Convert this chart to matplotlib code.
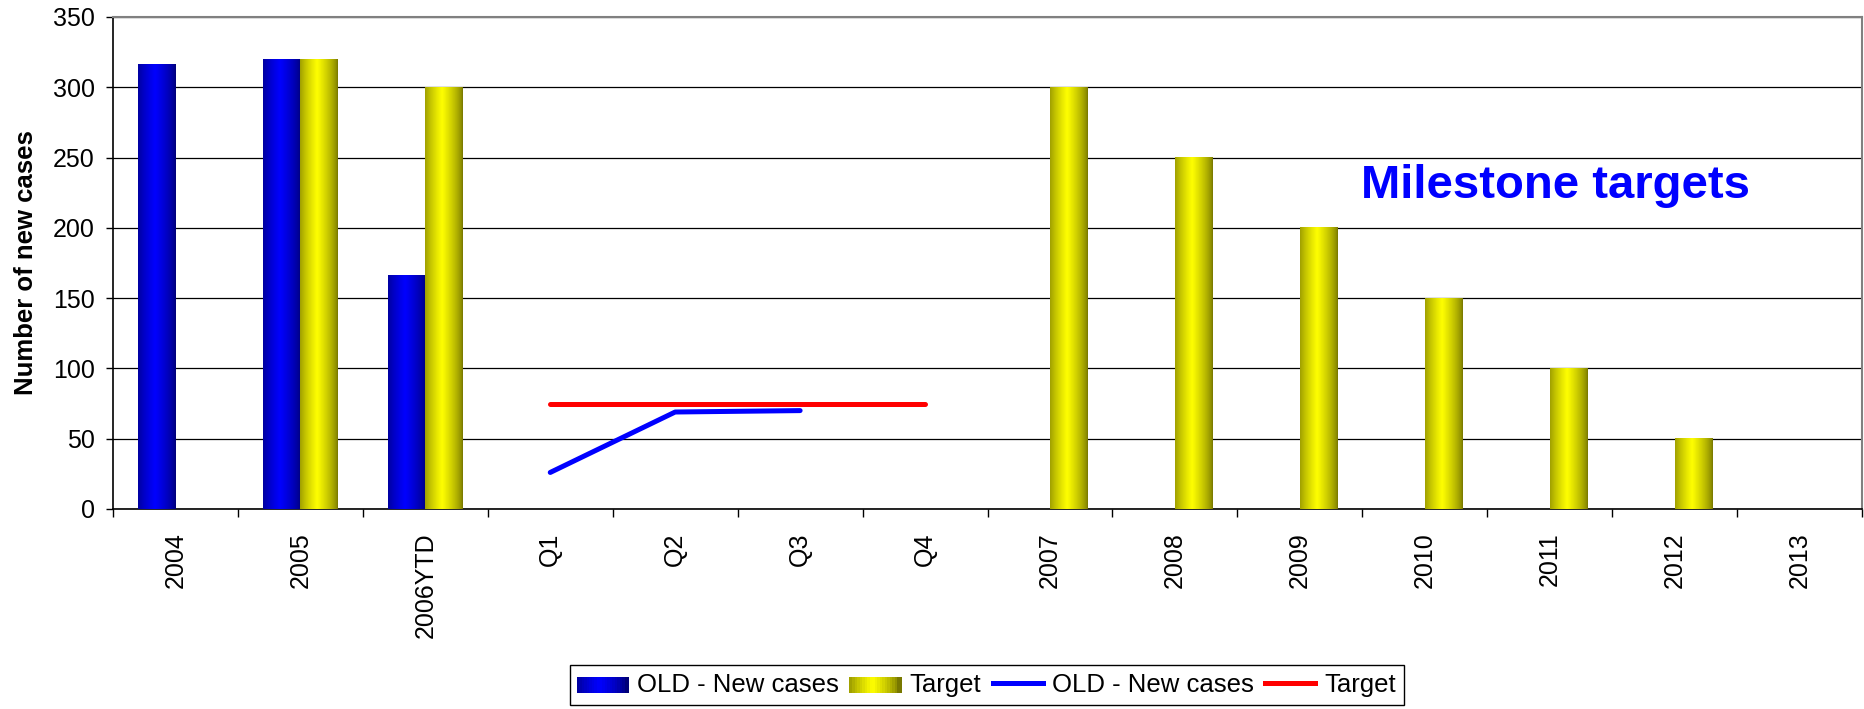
import numpy as np
import matplotlib
matplotlib.use('Agg')
import matplotlib.pyplot as plt
from matplotlib.patches import Rectangle
from matplotlib.lines import Line2D

# 数据
CATEGORIES = ['2004', '2005', '2006YTD', 'Q1', 'Q2', 'Q3', 'Q4',
              '2007', '2008', '2009', '2010', '2011', '2012', '2013']
OLD_BARS = [316, 320, 166, None, None, None, None, None, None, None, None, None, None, None]
TARGET_BARS = [None, 320, 300, None, None, None, None, 300, 250, 200, 150, 100, 50, None]
OLD_LINE = [None, None, None, 26, 69, 70, None, None, None, None, None, None, None, None]
TARGET_LINE = [None, None, None, 74.5, 74.5, 74.5, 74.5, None, None, None, None, None, None, None]

BLUE_DARK, BLUE_LIGHT = np.array([0, 0, 120]), np.array([0, 0, 255])
YEL_DARK, YEL_LIGHT = np.array([120, 120, 0]), np.array([255, 255, 0])

plt.rcParams['font.family'] = ['Liberation Sans', 'DejaVu Sans']


def gradient(dark, light, n=64):
    t = np.linspace(0, 1, n)
    f = np.clip(1 - np.abs(t - 0.45) / 0.55, 0, 1) ** 0.7
    cols = dark[None, :] + (light - dark)[None, :] * f[:, None]
    return (cols / 255.0)[None, :, :]


def grad_bar(ax, x0, width, height, dark, light):
    ax.imshow(gradient(dark, light), extent=[x0, x0 + width, 0, height],
              aspect='auto', interpolation='bilinear', zorder=3)


class GradHandler:
    def __init__(self, dark, light):
        self.dark, self.light = dark, light

    def legend_artist(self, legend, orig_handle, fontsize, handlebox):
        x0, y0 = handlebox.xdescent, handlebox.ydescent
        w, h = handlebox.width, handlebox.height
        g = gradient(self.dark, self.light, 20)[0]
        n = len(g)
        for i, c in enumerate(g):
            r = Rectangle((x0 + w * i / n - w * 0.02, y0), w / n + w * 0.04, h,
                          facecolor=c, edgecolor='none',
                          transform=handlebox.get_transform())
            handlebox.add_artist(r)
        return r


fig = plt.figure(figsize=(18.64, 7.09), dpi=100)
ax = fig.add_axes([113 / 1864, 1 - 509 / 709, 1749 / 1864, 492 / 709])

x = np.arange(len(CATEGORIES))
bw = 0.3
for i, v in enumerate(OLD_BARS):
    if v:
        grad_bar(ax, x[i] - bw, bw, v, BLUE_DARK, BLUE_LIGHT)
for i, v in enumerate(TARGET_BARS):
    if v:
        grad_bar(ax, x[i], bw, v, YEL_DARK, YEL_LIGHT)

old_line = np.array([np.nan if v is None else v for v in OLD_LINE], dtype=float)
tgt_line = np.array([np.nan if v is None else v for v in TARGET_LINE], dtype=float)
ax.plot(x, tgt_line, color='#ff0000', lw=3.6, solid_capstyle='round', zorder=4)
ax.plot(x, old_line, color='#0000ff', lw=3.6, solid_capstyle='round',
        solid_joinstyle='round', zorder=5)

ax.set_xlim(-0.5, len(CATEGORIES) - 0.5)
ax.set_ylim(0, 350)
ax.set_yticks(np.arange(0, 351, 50))
ax.yaxis.grid(True, color='black', lw=0.9)
ax.set_axisbelow(True)
ax.tick_params(axis='y', labelsize=18, length=5, width=1, direction='out', pad=8)

ax.set_xticks(x)
ax.set_xticklabels(CATEGORIES, rotation=90, fontsize=18)
ax.set_xticks(np.arange(-0.5, len(CATEGORIES), 1), minor=True)
ax.tick_params(axis='x', which='major', length=0, pad=17)
ax.tick_params(axis='x', which='minor', length=6, width=1, direction='out')

for s in ['top', 'right']:
    ax.spines[s].set_color('#808080')
    ax.spines[s].set_linewidth(1.5)
for s in ['left', 'bottom']:
    ax.spines[s].set_color('black')
    ax.spines[s].set_linewidth(1.2)

ax.set_ylabel('Number of new cases', fontsize=18.5, fontweight='bold')
ax.yaxis.set_label_coords(-0.043, 0.5)

ax.text(11.05, 230, 'Milestone targets', color='#0000ff', fontsize=34,
        fontweight='bold', ha='center', va='center')

h_old = Rectangle((0, 0), 1, 1)
h_tgt = Rectangle((0, 0), 1, 1)
h_l1 = Line2D([], [], color='#0000ff', lw=3.6)
h_l2 = Line2D([], [], color='#ff0000', lw=3.6)
leg = fig.legend([h_old, h_tgt, h_l1, h_l2],
                 ['OLD - New cases', 'Target', 'OLD - New cases', 'Target'],
                 handler_map={h_old: GradHandler(BLUE_DARK, BLUE_LIGHT),
                              h_tgt: GradHandler(YEL_DARK, YEL_LIGHT)},
                 loc='center', bbox_to_anchor=(987 / 1864, 1 - 685 / 709),
                 ncol=4, fancybox=False, edgecolor='black', framealpha=1,
                 fontsize=18.5, handlelength=1.95, handleheight=0.6,
                 handletextpad=0.35, columnspacing=0.45, borderpad=0.3,
                 borderaxespad=0)
leg.get_frame().set_linewidth(1.0)

fig.savefig('out.png', dpi=100)
